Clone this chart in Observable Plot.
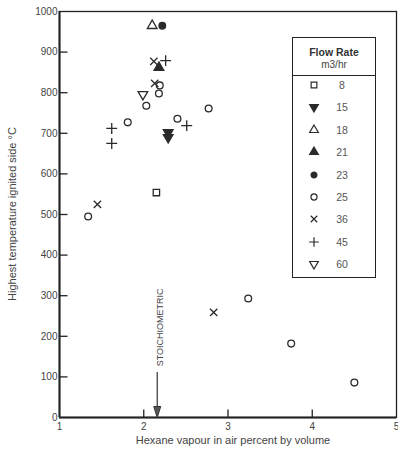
<!DOCTYPE html>
<html><head><meta charset="utf-8">
<script src="https://cdn.jsdelivr.net/npm/d3@7"></script>
<script src="https://cdn.jsdelivr.net/npm/@observablehq/plot@0.6"></script>
<style>
html,body{margin:0;padding:0;background:#fff;}
#wrap{position:relative;width:398px;height:454px;overflow:hidden;font-family:"Liberation Sans",Arial,sans-serif;color:#333;}
#legend{position:absolute;left:292px;top:37px;width:84px;height:241px;border:1.6px solid #222;box-sizing:border-box;background:#fff;}
.lg{position:absolute;white-space:nowrap;}
.ttl{position:absolute;font-size:11px;color:#444;white-space:nowrap;}
</style></head><body><div id="wrap"></div>
<script>
// ---- data ----
const flowRates = ["8", "15", "18", "21", "23", "25", "36", "45", "60"];
const fr8  = [[2.15, 554]];
const fr15 = [[2.29, 702], [2.29, 690]];
const fr18 = [[2.10, 965]];
const fr21 = [[2.18, 862]];
const fr23 = [[2.22, 965]];
const fr25 = [[2.19, 818], [2.18, 798], [2.03, 768], [1.81, 727], [2.40, 736], [2.77, 761], [1.34, 495], [3.24, 293], [3.75, 182], [4.50, 86]];
const fr36 = [[2.12, 877], [2.13, 823], [1.45, 525], [2.83, 259]];
const fr45 = [[2.26, 879], [1.62, 712], [1.62, 675], [2.51, 719]];
const fr60 = [[1.99, 796]];
const xTicks = [1, 2, 3, 4, 5];
const yTicks = [0, 100, 200, 300, 400, 500, 600, 700, 800, 900, 1000];
const xDomain = [1, 5];
const yDomain = [0, 1000];
const stoich = 2.16;
const stoichLabel = "STOICHIOMETRIC";
const stoichLabelY = 222;
const stoichLineTop = 111;
const xTitle = "Hexane vapour in air percent by volume";
const yTitle = "Highest temperature ignited side °C";
const legendTitle = ["Flow Rate", "m3/hr"];

// ---- symbols ----
const s3 = Math.sqrt(3);
const triangleDown = {draw(c, size) { const y = -Math.sqrt(size / (s3 * 3)); c.moveTo(0, -y * 2); c.lineTo(-s3 * y, y); c.lineTo(s3 * y, y); c.closePath(); }};
const tickRight = {draw(c) { c.moveTo(0, 0); c.lineTo(8, 0); }};
const tickUp = {draw(c) { c.moveTo(0, 0); c.lineTo(0, -8); }};
const arrowHead = {draw(c) { c.moveTo(0, 0); c.lineTo(-3.5, -11); c.lineTo(3.5, -11); c.closePath(); }};

const ink = "#2a2a2a";
const series = [fr8, fr15, fr18, fr21, fr23, fr25, fr36, fr45, fr60];
const styles = [
  {symbol: d3.symbolSquare, fill: "none", r: 3.6},
  {symbol: triangleDown, fill: ink, r: 3.6},
  {symbol: d3.symbolTriangle, fill: "none", r: 3.6},
  {symbol: d3.symbolTriangle, fill: ink, r: 3.6},
  {symbol: d3.symbolCircle, fill: ink, r: 3.3},
  {symbol: d3.symbolCircle, fill: "none", r: 3.4},
  {symbol: d3.symbolTimes, fill: "none", r: 3.4},
  {symbol: d3.symbolPlus, fill: "none", r: 3.6},
  {symbol: triangleDown, fill: "none", r: 3.6}
];

const pointMarks = series.map((arr, i) => Plot.dot(arr, {
  x: d => d[0], y: d => d[1], symbol: styles[i].symbol, r: styles[i].r,
  fill: styles[i].fill, stroke: ink, strokeWidth: 1.3
}));

const chart = Plot.plot({
  width: 398, height: 454,
  marginLeft: 59, marginRight: 2, marginTop: 11, marginBottom: 37,
  style: {fontFamily: "'Liberation Sans', Arial, sans-serif", fontSize: "10px", color: "#444", background: "#fff"},
  x: {domain: xDomain, label: null},
  y: {domain: yDomain, label: null},
  marks: [
    Plot.axisX(xTicks, {tickSize: 0, tickPadding: 5, fontSize: 10, fill: "#444", label: null, tickFormat: d => String(d)}),
    Plot.axisY(yTicks, {tickSize: 0, tickPadding: 2, fontSize: 10, fill: "#444", label: null, tickFormat: d => String(d)}),
    Plot.frame({stroke: "#222", strokeWidth: 1.3}),
    Plot.ruleX([xDomain[0]], {stroke: "#222", strokeWidth: 2}),
    Plot.ruleY([yDomain[0]], {stroke: "#222", strokeWidth: 2}),
    Plot.dot(yTicks.slice(1, -1), {x: () => xDomain[0], y: d => d, symbol: tickRight, fill: "none", stroke: "#222", strokeWidth: 1.3}),
    Plot.dot(xTicks.slice(1, -1), {x: d => d, y: () => yDomain[0], symbol: tickUp, fill: "none", stroke: "#222", strokeWidth: 1.3}),
    Plot.ruleX([stoich], {y1: 8, y2: stoichLineTop, stroke: "#333", strokeWidth: 1.2}),
    Plot.dot([stoich], {x: d => d, y: () => yDomain[0], symbol: arrowHead, fill: "#555", stroke: "#333", strokeWidth: 1}),
    Plot.text([stoichLabel], {x: () => stoich, y: () => stoichLabelY, text: d => d, rotate: -90, dx: 3, fontSize: 9, fill: "#444"}),
    ...pointMarks
  ]
});

const wrap = document.getElementById("wrap");
wrap.appendChild(chart);

// axis titles
const xt = document.createElement("div");
xt.className = "ttl"; xt.textContent = xTitle;
xt.style.left = "233px"; xt.style.top = "440px"; xt.style.transform = "translate(-50%,-50%)";
wrap.appendChild(xt);
const yt = document.createElement("div");
yt.className = "ttl"; yt.textContent = yTitle;
yt.style.left = "12px"; yt.style.top = "214px"; yt.style.transform = "translate(-50%,-50%) rotate(-90deg)";
wrap.appendChild(yt);

// legend
const lg = document.createElement("div");
lg.id = "legend";
wrap.appendChild(lg);
const h1 = document.createElement("div");
h1.className = "lg"; h1.textContent = legendTitle[0];
h1.style.cssText += "left:50%;top:14px;transform:translate(-50%,-50%);font-weight:bold;font-size:10.5px;color:#333;";
lg.appendChild(h1);
const h2 = document.createElement("div");
h2.className = "lg"; h2.textContent = legendTitle[1];
h2.style.cssText += "left:50%;top:26px;transform:translate(-50%,-50%);font-size:10px;color:#444;";
lg.appendChild(h2);
const hr = document.createElement("div");
hr.className = "lg";
hr.style.cssText += "left:0;right:0;top:37px;height:0;border-top:1.5px solid #222;";
lg.appendChild(hr);
flowRates.forEach((fr, i) => {
  const cy = 47 + 22.4 * i;
  const st = styles[i];
  const size = Math.PI * st.r * st.r * 0.8;
  const svg = d3.create("svg").attr("width", 14).attr("height", 14)
    .style("position", "absolute").style("left", (21 - 7) + "px").style("top", (cy - 7) + "px");
  svg.append("path").attr("transform", "translate(7,7)")
    .attr("d", d3.symbol(st.symbol, size)())
    .attr("fill", st.fill).attr("stroke", ink).attr("stroke-width", 1.2);
  lg.appendChild(svg.node());
  const t = document.createElement("div");
  t.className = "lg"; t.textContent = fr;
  t.style.cssText += `left:49px;top:${cy}px;transform:translate(-50%,-50%);font-size:10.5px;color:#555;`;
  lg.appendChild(t);
});
</script>
</body></html>
